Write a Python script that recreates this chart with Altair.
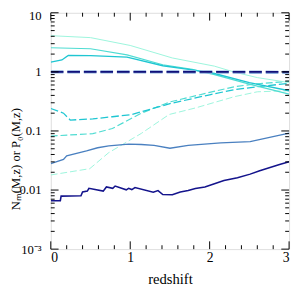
import altair as alt
import pandas as pd

# ---- data ----
navy_x = [0, 0.12, 0.13, 0.38, 0.40, 0.46, 0.48, 0.66, 0.70, 0.78, 0.81, 0.95, 0.98, 1.02, 1.06, 1.29, 1.35, 1.41, 1.53,
          1.63, 1.73, 1.82, 1.94, 2.06, 2.18, 2.35, 2.51, 2.63, 2.76, 2.88, 3.0]
navy_y = [0.0066, 0.0066, 0.0079, 0.0080, 0.0093, 0.0096, 0.0107, 0.0096, 0.0113, 0.0107, 0.0117, 0.0101, 0.0107, 0.0102,
          0.0110, 0.0092, 0.0098, 0.0084, 0.0083, 0.0093, 0.0098, 0.0106, 0.0113, 0.0128, 0.0145, 0.0162, 0.0186, 0.0212,
          0.024, 0.027, 0.030]

steel_x = [0, 0.16, 0.20, 0.45, 0.59, 0.73, 0.98, 1.14, 1.30, 1.50, 1.73, 2.14, 2.51, 3.0]
steel_y = [0.028, 0.033, 0.038, 0.046, 0.052, 0.056, 0.060, 0.059, 0.057, 0.051, 0.057, 0.063, 0.066, 0.092]

light_solid_x = [0, 0.5, 1.0, 1.53, 2.06, 2.3, 2.6, 3.0]
light_solid_y = [4.1, 3.8, 2.8, 1.72, 1.25, 1.0, 0.8, 0.66]

mid_solid_x = [0, 0.5, 0.96, 1.41, 1.78, 2.06, 2.5, 3.0]
mid_solid_y = [2.56, 2.46, 1.94, 1.32, 1.1, 0.9, 0.62, 0.42]

turq_solid_x = [0, 0.14, 0.22, 0.5, 0.96, 1.41, 1.78, 2.06, 2.5, 3.0]
turq_solid_y = [1.46, 1.59, 1.9, 1.88, 1.78, 1.27, 1.08, 0.94, 0.66, 0.48]

turq_dash_x = [0, 0.16, 0.245, 0.53, 0.775, 1.02, 1.5, 2.0, 2.31, 2.6, 3.0]
turq_dash_y = [0.24, 0.20, 0.153, 0.16, 0.174, 0.19, 0.29, 0.41, 0.50, 0.56, 0.64]

mid_dash_x = [0, 0.53, 0.775, 1.14, 1.5, 2.0, 2.31, 2.6, 3.0]
mid_dash_y = [0.082, 0.090, 0.11, 0.20, 0.31, 0.45, 0.56, 0.63, 0.69]

light_dash_x = [0, 0.49, 0.73, 1.14, 1.49, 1.82, 2.31, 2.6, 3.0]
light_dash_y = [0.018, 0.023, 0.043, 0.091, 0.19, 0.245, 0.38, 0.46, 0.48]

unity_x = [0, 1.5, 3.0]
unity_y = [1.0, 1.0, 0.98]

x_major = [0, 1, 2, 3]
x_minor = [0.2, 0.4, 0.6, 0.8, 1.2, 1.4, 1.6, 1.8, 2.2, 2.4, 2.6, 2.8]
y_major = [0.001, 0.01, 0.1, 1, 10]
y_major_labels = ["10⁻³", "0.01", "0.1", "1", "10"]
y_minor = [m * d for d in [0.001, 0.01, 0.1, 1] for m in range(2, 10)]

W, H = 245, 243
FONT = "Liberation Serif"

label_expr = ""
for v, t in zip(y_major, y_major_labels):
    label_expr += f"datum.value < {v * 1.5} ? '{t}' : "
label_expr += "''"

xscale = alt.Scale(domain=[0, 3], nice=False, zero=False)
yscale = alt.Scale(type="log", domain=[0.001, 10], nice=False)

xaxis = alt.Axis(values=x_major, format="d", ticks=False, domain=False, grid=False,
                 labelFont=FONT, labelFontSize=14, labelPadding=2, labelColor="black",
                 title="redshift", titleFont=FONT, titleFontSize=15, titleFontWeight="normal",
                 titlePadding=7, titleColor="black")
yaxis = alt.Axis(values=y_major, labelExpr=label_expr, ticks=False, domain=False, grid=False,
                 labelFont=FONT, labelFontSize=13, labelPadding=10, labelColor="black",
                 labelOffset=alt.condition("datum.value > 5", alt.value(3), alt.value(0)),
                 title="Nₘ(M,z) or P₀(M,z)", titleFont=FONT, titleFontSize=13,
                 titleFontWeight="normal", titleColor="black", titleX=-36, titleY=150,
                 titleBaseline="middle")


def xe(field):
    return alt.X(field, type="quantitative", scale=xscale, axis=xaxis)


def ye(field):
    return alt.Y(field, type="quantitative", scale=yscale, axis=yaxis)


layers = []


def line(xs, ys, color, width, dash=None):
    df = pd.DataFrame({"x": xs, "y": ys, "i": range(len(xs))})
    kw = dict(color=color, strokeWidth=width, clip=True)
    if dash:
        kw["strokeDash"] = dash
    layers.append(alt.Chart(df).mark_line(**kw).encode(x=xe("x"), y=ye("y"), order="i:Q"))


line(light_dash_x, light_dash_y, "#9af5dc", 1.0, [7, 3])
line(mid_dash_x, mid_dash_y, "#4fdcd2", 1.2, [7, 3])
line(turq_dash_x, turq_dash_y, "#1fc6d2", 1.3, [8, 3])
line(light_solid_x, light_solid_y, "#9af5dc", 1.0)
line(mid_solid_x, mid_solid_y, "#4fdcd2", 1.2)
line(turq_solid_x, turq_solid_y, "#1fc6d2", 1.4)
line(steel_x, steel_y, "#4a80c0", 1.4)
line(navy_x, navy_y, "#14148c", 1.6)
line(unity_x, unity_y, "#8fb0de", 3.5, [13, 4])
line(unity_x, [1.0] * len(unity_x), "#10107a", 1.8, [13, 4])


# inward ticks on all four sides
def yticks(vals, length):
    df = pd.DataFrame({"v": vals})
    base = alt.Chart(df).mark_rule(color="black", strokeWidth=1)
    return [base.encode(y=ye("v"), x=alt.value(0), x2=alt.value(length)),
            base.encode(y=ye("v"), x=alt.value(W), x2=alt.value(W - length))]


def xticks(vals, length):
    df = pd.DataFrame({"v": vals})
    base = alt.Chart(df).mark_rule(color="black", strokeWidth=1)
    return [base.encode(x=xe("v"), y=alt.value(H), y2=alt.value(H - length)),
            base.encode(x=xe("v"), y=alt.value(0), y2=alt.value(length))]


layers += yticks(y_major, 8) + yticks(y_minor, 4) + xticks(x_major, 8) + xticks(x_minor, 4)

chart = alt.layer(*layers).properties(
    width=W, height=H,
    padding={"left": 44, "top": 1, "right": 3, "bottom": 35},
    autosize=alt.AutoSizeParams(type="none"),
).configure_view(stroke="black", strokeWidth=1.5).configure(background="white")

chart.save("out.html", embed_options={"renderer": "svg", "actions": False})
